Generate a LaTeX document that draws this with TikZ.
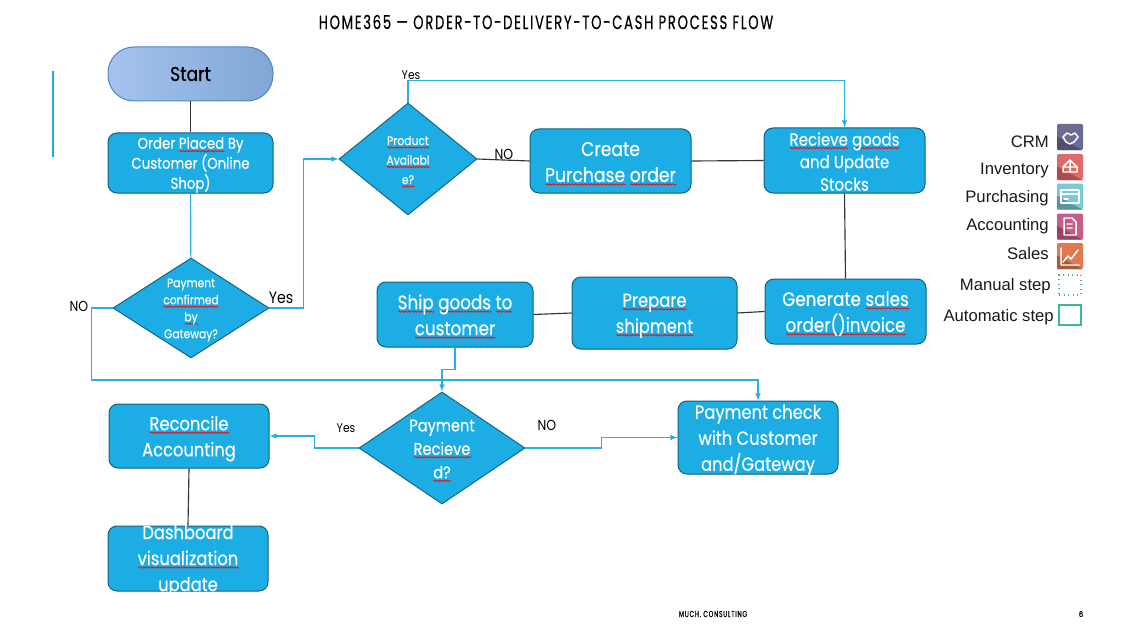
\documentclass[tikz,border=0pt]{standalone}
\usepackage{fontspec}
\setmainfont{Poppins}[FakeStretch=0.86,FakeBold=0.35]
\newfontfamily\titlefont{Poppins}[FakeStretch=0.68,LetterSpace=9,FakeBold=0.5]
\newfontfamily\legendfont{Liberation Sans}
\newfontfamily\tagfont{Poppins}[FakeStretch=0.86]
\usetikzlibrary{shapes.geometric,decorations.pathmorphing}
\definecolor{boxblue}{HTML}{1CADE4}
\definecolor{boxedge}{HTML}{13607F}
\definecolor{linkblue}{HTML}{2AADE0}
\definecolor{stepgreen}{HTML}{3DB89A}
\definecolor{startleft}{HTML}{A6C3EE}
\definecolor{startright}{HTML}{7FA7D6}
\definecolor{startedge}{HTML}{4A88C4}
\newsavebox\sqbox
\newlength\sqlen
\newcommand\sq[1]{\sbox\sqbox{#1}\setlength\sqlen{\wd\sqbox}\rlap{\lower2.6pt\hbox{\tikz[x=1pt,y=1pt]\draw[red,line width=.55pt,decorate,decoration={snake,amplitude=.5pt,segment length=2.4pt}] (0,0) -- (\sqlen,0);}}\usebox\sqbox}
\newcommand\px{0.75pt}
\newcommand\fnt[2]{\pgfmathsetmacro\fntpt{#1*0.75}\pgfmathsetmacro\fntsk{#2*0.75}\fontsize{\fntpt}{\fntsk}\selectfont}
\tikzset{
  boxtext/.style={align=center,text=white,inner sep=0pt,yshift=-2pt},
  stepbox/.style={draw=boxedge,fill=boxblue,rounded corners=9*\px,line width=\px,inner sep=0pt},
  decide/.style={diamond,draw=boxedge,fill=boxblue,line width=0.7pt,inner sep=0pt},
  link/.style={linkblue,line width=0.85pt},
  flow/.style={link,-latex},
  plain/.style={black!80,line width=0.85pt},
  tag/.style={inner sep=0pt,text=black},
  legend/.style={inner sep=0pt,anchor=east,font=\legendfont\fontsize{12.5}{14}\selectfont,text=black!90},
  icon/.style={inner sep=0pt,minimum width=26*\px,minimum height=26*\px,rounded corners=1pt},
  glyph/.style={draw=white,line width=1.1pt,line cap=round,line join=round}
}
\begin{document}
\begin{tikzpicture}[x=0.75pt,y=-0.75pt]
  \useasboundingbox (0,0) rectangle (1126,624);
  % title and footer
  \node[inner sep=0pt,font=\titlefont\fontsize{14.5}{16}\selectfont] (title) at (546,22) {HOME365 — ORDER-TO-DELIVERY-TO-CASH PROCESS FLOW};
  \node[inner sep=0pt,font=\titlefont\fontsize{6.5}{7}\selectfont] (footer) at (713,614) {MUCH. CONSULTING};
  \node[inner sep=0pt,font=\fontsize{6}{7}\selectfont] (pageno) at (1081,614) {6};
  \coordinate (acctop) at (53,71);
  \coordinate (accbot) at (53,157);
  \draw[boxblue,line width=1.4pt] (acctop) -- (accbot);
  % boxes of the flow
  \node[draw=startedge,left color=startleft,right color=startright,line width=\px,rounded corners=26*\px,minimum width=165*\px,minimum height=54*\px,inner sep=0pt,label={[inner sep=0pt,font=\fnt{20}{22}]center:Start}] (start) at (190.5,74) {};
  \node[stepbox,minimum width=165*\px,minimum height=60*\px,label={[boxtext,yshift=0.5pt,font=\fnt{15.5}{20}]center:Order \sq{Placed} By\\Customer (Online\\Shop)}] (order) at (190.5,163) {};
  \node[decide,minimum width=156*\px,minimum height=100*\px,label={[boxtext,yshift=0.5pt,font=\fnt{12.5}{17}]center:Payment\\\sq{confirmed}\\\sq{by}\\Gateway?}] (paid) at (191,308) {};
  \node[decide,minimum width=138*\px,minimum height=112*\px,label={[boxtext,font=\fnt{12.5}{19.5}]center:\sq{Product}\\\sq{Availabl}\\\sq{e?}}] (avail) at (408,159) {};
  \node[stepbox,minimum width=161*\px,minimum height=64*\px,label={[boxtext,font=\fnt{20}{26}]center:Create\\\sq{Purchase} \sq{order}}] (create) at (610.5,161) {};
  \node[stepbox,minimum width=161*\px,minimum height=65*\px,label={[boxtext,yshift=1.2pt,font=\fnt{17.5}{22.5}]center:\sq{Recieve} \sq{goods}\\and Update\\Stocks}] (goods) at (844.5,160.5) {};
  \node[stepbox,minimum width=161*\px,minimum height=65*\px,label={[boxtext,yshift=0.5pt,font=\fnt{19.5}{26}]center:Generate \sq{sales}\\\sq{order()invoice}}] (invoice) at (845.5,311.5) {};
  \node[stepbox,minimum width=165*\px,minimum height=72*\px,label={[boxtext,font=\fnt{19}{26}]center:\sq{Prepare}\\\sq{shipment}}] (prepare) at (654.5,313) {};
  \node[stepbox,minimum width=156*\px,minimum height=65*\px,label={[boxtext,yshift=0.5pt,font=\fnt{19.5}{26}]center:\sq{Ship} \sq{goods} \sq{to}\\\sq{customer}}] (ship) at (455,314.5) {};
  \node[decide,minimum width=166*\px,minimum height=112*\px,label={[boxtext,font=\fnt{17}{23.5}]center:Payment\\\sq{Recieve}\\\sq{d?}}] (received) at (442,448) {};
  \node[stepbox,minimum width=160*\px,minimum height=73*\px,label={[boxtext,font=\fnt{19}{26}]center:Payment check\\with Customer\\and/Gateway}] (check) at (758,437.5) {};
  \node[stepbox,minimum width=160*\px,minimum height=64*\px,label={[boxtext,font=\fnt{19}{26}]center:\sq{Reconcile}\\Accounting}] (reconcile) at (189,436) {};
  \node[stepbox,minimum width=160*\px,minimum height=65*\px,label={[boxtext,yshift=0.5pt,font=\fnt{19}{26}]center:Dashboard\\\sq{visualization}\\update}] (dash) at (188,558.5) {};
  % connectors
  \draw[plain] (start) -- (order);
  \draw[link] (order) -- (paid);
  \draw[flow] (paid.east) -- ++(34,0) |- (avail.west);
  \draw[flow] (paid.west) -- ++(-21,0) -- ++(0,72) -| (check.north);
  \draw[flow] (avail.north) -- ++(0,-22) -| (goods.north);
  \draw[plain] (avail.east) -- (create.west);
  \draw[plain] (create.east) -- (goods.west);
  \draw[plain] (goods.south) -- (invoice.north);
  \draw[plain] (invoice.west) -- (prepare.east);
  \draw[plain] (prepare.west) -- (ship.east);
  \draw[flow] (ship.south) -- ++(0,22) -| (received.north);
  \draw[flow] (received.west) -- ++(-44,0) |- (reconcile.east);
  \draw[flow] (received.east) -- ++(76,0) |- (check.west);
  \draw[plain] (reconcile.south) -- (dash.north);
  % labels on the connectors
  \node[tag,font=\tagfont\fnt{16.5}{18}] (yespaid) at (281,298) {Yes};
  \node[tag,font=\tagfont\fnt{14.5}{16}] (nopaid) at (79,306) {NO};
  \node[tag,font=\tagfont\fnt{12.5}{14}] (yesavail) at (411,75) {Yes};
  \node[tag,font=\tagfont\fnt{14.5}{16}] (noavail) at (504,154) {NO};
  \node[tag,font=\tagfont\fnt{12.5}{14}] (yesrecv) at (346,428) {Yes};
  \node[tag,font=\tagfont\fnt{14.5}{16}] (norecv) at (547,425) {NO};
  % legend
  \foreach \name/\col/\y/\ly in {CRM/6B6B94/137/142,Inventory/E0696A/167/170,Purchasing/7CC8D6/196.5/198,Accounting/C65C88/226.5/226,Sales/DE7B50/256/254}{
    \definecolor{iconfill}{HTML}{\col}
    \node[legend] (lab\name) at (1049,\ly) {\name};
    \node[icon,fill=iconfill] (ico\name) at (1070,\y) {};
    \fill[black,opacity=0.25] (ico\name.south west) -- ++(0,-14) -- ++(26,14) -- cycle;
  }
  \draw[glyph] (1063,137) -- (1067,133) -- (1071,135) -- (1075,133) -- (1078,137) -- (1074,142) -- (1070,144) -- (1066,142) -- cycle;
  \draw[glyph] (1063,167) -- (1070,160) -- (1077,167) -- (1077,172) -- (1063,172) -- cycle (1070,160) -- (1070,172) (1063,167) -- (1077,167);
  \draw[glyph] (1061,190) rectangle (1079,203) (1061,194) -- (1079,194) (1064,199) -- (1068,199);
  \draw[glyph] (1064,218) -- (1072,218) -- (1076,222) -- (1076,235) -- (1064,235) -- cycle (1067,224) -- (1072,224) (1067,228) -- (1072,228);
  \draw[glyph] (1061,248) -- (1061,265) -- (1079,265) (1063,262) -- (1068,256) -- (1071,259) -- (1078,250);
  \node[legend] (labmanual) at (1051,286) {Manual step};
  \node[inner sep=0pt,draw=stepgreen,dash pattern=on 0.8pt off 2.6pt,line width=0.8pt,minimum width=22*\px,minimum height=20*\px] (manual) at (1070,285) {};
  \node[legend] (labauto) at (1054,317) {Automatic step};
  \node[inner sep=0pt,draw=stepgreen,line width=0.8pt,minimum width=22*\px,minimum height=20*\px] (auto) at (1070,315) {};
\end{tikzpicture}
\end{document}
